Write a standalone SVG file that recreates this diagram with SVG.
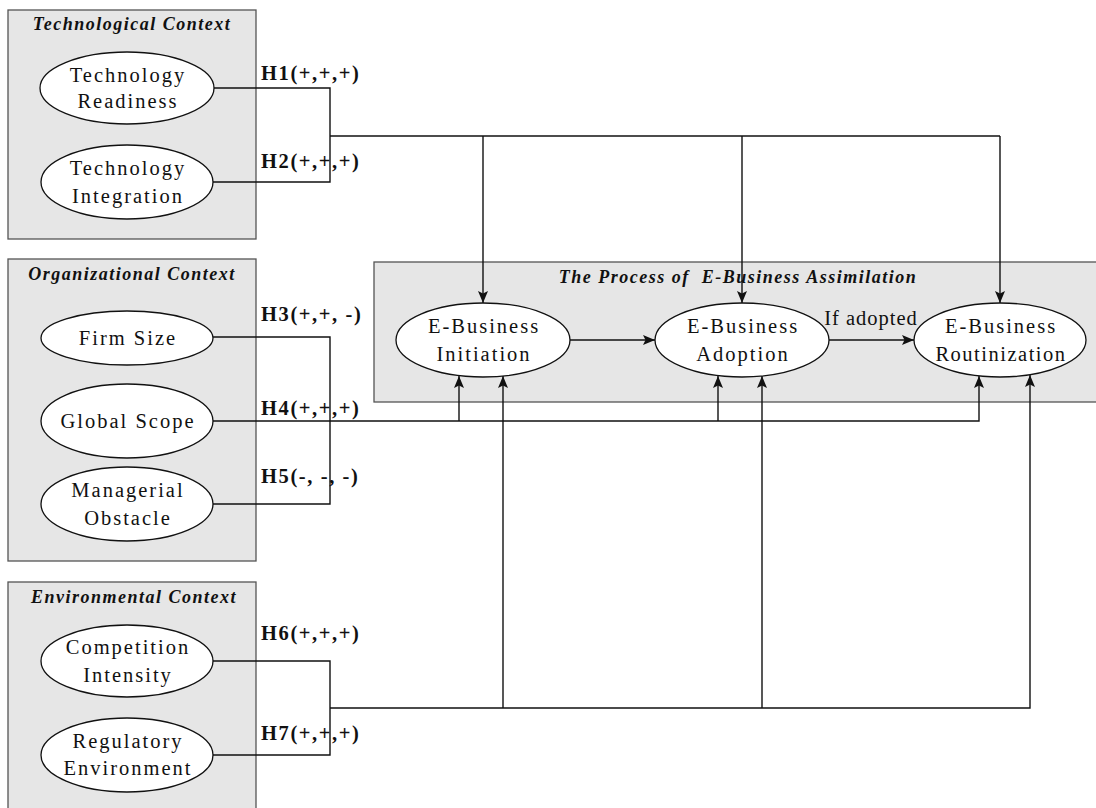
<svg xmlns="http://www.w3.org/2000/svg" width="1096" height="808" viewBox="0 0 1096 808">
<style>
.box{fill:#e6e6e6;stroke:#555;stroke-width:1.3}
.ttl{font-family:"Liberation Serif",serif;font-weight:bold;font-style:italic;font-size:18px;letter-spacing:1.5px;text-anchor:middle;fill:#111;white-space:pre}
.el{fill:#fff;stroke:#111;stroke-width:1.3}
.t{font-family:"Liberation Serif",serif;font-size:20.5px;letter-spacing:2px;text-anchor:middle;fill:#111}
.h{font-family:"Liberation Serif",serif;font-weight:bold;font-size:20.5px;letter-spacing:1.6px;fill:#111}
.c{fill:none;stroke:#111;stroke-width:1.4}
.a{marker-end:url(#arr)}
</style>
<defs>
<marker id="arr" viewBox="0 0 12 10" refX="12" refY="5" markerWidth="12" markerHeight="10" orient="auto" markerUnits="userSpaceOnUse">
<path d="M0,0 L12,5 L0,10 L2.5,5 z" fill="#111"/>
</marker>
</defs>
<rect width="1096" height="808" fill="#fff"/>

<g id="tech-context">
<rect class="box" x="8" y="10" width="248" height="229"/>
<text class="ttl" x="132" y="30">Technological Context</text>
</g>
<g id="org-context">
<rect class="box" x="8" y="259" width="248" height="302"/>
<text class="ttl" x="132" y="280">Organizational Context</text>
</g>
<g id="env-context">
<rect class="box" x="8" y="582" width="248" height="240"/>
<text class="ttl" x="134" y="603">Environmental Context</text>
</g>
<g id="process">
<rect class="box" x="374" y="262" width="730" height="140"/>
<text class="ttl" x="738" y="283" xml:space="preserve">The Process of  E-Business Assimilation</text>
</g>

<g id="connectors">
<path class="c" d="M214,88 H330 V182 H213"/>
<path class="c" d="M330,136 H1000"/>
<path class="c a" d="M483,136 V303"/>
<path class="c a" d="M742,136 V303"/>
<path class="c a" d="M1000,136 V303"/>
<path class="c" d="M213,337 H330 V504 H213"/>
<path class="c a" d="M213,421 H979 V376"/>
<path class="c a" d="M459,421 V376"/>
<path class="c a" d="M718,421 V376"/>
<path class="c" d="M213,661 H330 V755 H213"/>
<path class="c a" d="M330,708 H1030 V375"/>
<path class="c a" d="M503,708 V376"/>
<path class="c a" d="M762,708 V376"/>
<path class="c a" d="M570,340 H655"/>
<path class="c a" d="M829,340 H914"/>
<text class="t" x="871" y="325" style="letter-spacing:1px">If adopted</text>
<text class="h" x="261" y="80">H1(+,+,+)</text>
<text class="h" x="261" y="168">H2(+,+,+)</text>
<text class="h" x="261" y="321">H3(+,+, -)</text>
<text class="h" x="261" y="415">H4(+,+,+)</text>
<text class="h" x="261" y="483">H5(-, -, -)</text>
<text class="h" x="261" y="640">H6(+,+,+)</text>
<text class="h" x="261" y="740">H7(+,+,+)</text>
</g>

<g id="tech-readiness">
<ellipse class="el" cx="127" cy="88" rx="87" ry="36"/>
<text class="t" x="128" y="82">Technology</text>
<text class="t" x="128" y="108">Readiness</text>
</g>
<g id="tech-integration">
<ellipse class="el" cx="127" cy="182" rx="86" ry="37"/>
<text class="t" x="128" y="175">Technology</text>
<text class="t" x="128" y="203">Integration</text>
</g>
<g id="firm-size">
<ellipse class="el" cx="127" cy="338" rx="86" ry="27"/>
<text class="t" x="128" y="345">Firm Size</text>
</g>
<g id="global-scope">
<ellipse class="el" cx="127" cy="421" rx="86" ry="37"/>
<text class="t" x="128" y="428">Global Scope</text>
</g>
<g id="managerial-obstacle">
<ellipse class="el" cx="127" cy="504" rx="86" ry="37"/>
<text class="t" x="128" y="497">Managerial</text>
<text class="t" x="128" y="525">Obstacle</text>
</g>
<g id="competition-intensity">
<ellipse class="el" cx="127" cy="661" rx="86" ry="36"/>
<text class="t" x="128" y="654">Competition</text>
<text class="t" x="128" y="682">Intensity</text>
</g>
<g id="regulatory-environment">
<ellipse class="el" cx="127" cy="755" rx="86" ry="37"/>
<text class="t" x="128" y="748">Regulatory</text>
<text class="t" x="128" y="775">Environment</text>
</g>
<g id="initiation">
<ellipse class="el" cx="483" cy="340" rx="87" ry="37"/>
<text class="t" x="484" y="333">E-Business</text>
<text class="t" x="484" y="361">Initiation</text>
</g>
<g id="adoption">
<ellipse class="el" cx="742" cy="340" rx="87" ry="37"/>
<text class="t" x="743" y="333">E-Business</text>
<text class="t" x="743" y="361">Adoption</text>
</g>
<g id="routinization">
<ellipse class="el" cx="1000" cy="340" rx="86" ry="37"/>
<text class="t" x="1001" y="333">E-Business</text>
<text class="t" x="1001" y="361" style="letter-spacing:1.5px">Routinization</text>
</g>
</svg>
